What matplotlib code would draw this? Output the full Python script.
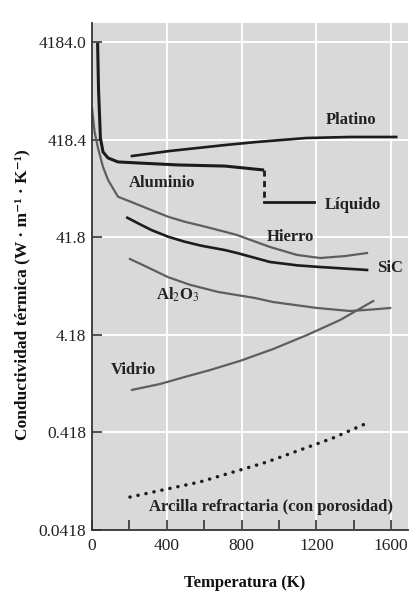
"""
Conductividad térmica de varios materiales frente a la temperatura.
Escala logarítmica en el eje vertical.
"""

import matplotlib
matplotlib.use("Agg")
import matplotlib.pyplot as plt
from matplotlib.ticker import FixedLocator, NullLocator

# --- valores (T en K, k en W/m/K) ---
al_T = [30, 35, 45, 59, 86, 139, 246, 460, 712, 920]
al_k = [4100, 1346, 434, 312, 271, 247, 241, 230, 224, 204]

liq_T = [920, 1188]
liq_k = [96, 96]

pt_T = [214, 417, 712, 878, 1145, 1381, 1627]
pt_k = [284, 320, 368, 395, 434, 445, 445]

fe_T = [0, 14, 32, 59, 86, 139, 228, 317, 407, 496, 585, 710, 776, 952,
        1097, 1220, 1354, 1471]
fe_k = [881, 500, 343, 219, 161, 108.7, 93.0, 79.4, 67.8, 60.2, 54.8, 47.6,
        44.0, 33.2, 27.5, 25.6, 26.8, 28.8]

sic_T = [189, 246, 317, 407, 496, 585, 710, 776, 952, 1100, 1220, 1471]
sic_k = [66.2, 58.1, 49.6, 42.3, 37.6, 34.2, 30.9, 28.8, 23.3, 21.5, 20.7,
         19.3]

alu_T = [203, 283, 407, 524, 674, 872, 969, 1204, 1381, 1500, 1595]
alu_k = [25.0, 21.2, 16.3, 13.6, 11.5, 9.96, 9.06, 7.87, 7.33, 7.6, 7.87]

vid_T = [214, 364, 498, 631, 792, 969, 1150, 1327, 1504]
vid_k = [1.14, 1.31, 1.55, 1.82, 2.26, 2.99, 4.16, 5.93, 9.28]

arc_T = [203, 578, 936, 1290, 1471]
arc_k = [0.091, 0.130, 0.208, 0.367, 0.521]

ytick_vals = [0.0418, 0.418, 4.18, 41.8, 418.4, 4184.0]
ytick_labels = ["0.0418", "0.418", "4.18", "41.8", "418.4", "4184.0"]
xtick_major = [0, 400, 800, 1200, 1600]
xtick_minor = [200, 600, 1000, 1400]

# etiquetas de curvas: (texto, T, k)
curve_labels = [
    ("Platino", 1386, 664),
    ("Aluminio", 375, 150),
    ("Líquido", 1397, 89),
    ("Hierro", 1060, 42),
    ("SiC", 1595, 20.2),
    ("Al$_2$O$_3$", 460, 10.7),
    ("Vidrio", 220, 1.82),
    ("Arcilla refractaria (con porosidad)", 958, 0.072),
]

SERIF = ["Liberation Serif", "DejaVu Serif"]
BLACK = "#1c1c1c"
GRAY = "#5e5e5e"


def set_style():
    plt.rcParams.update({
        "font.family": SERIF,
        "mathtext.fontset": "stix",
        "font.size": 12,
        "axes.facecolor": "#d9d9d9",
        "figure.facecolor": "white",
    })


def plot_conductivity(save_path="out.png"):
    set_style()
    fig = plt.figure(figsize=(4.12, 6.08), dpi=100)
    ax = fig.add_axes([92 / 412, 1 - 530 / 608, 316 / 412, 507 / 608])

    ax.set_yscale("log")
    ax.set_xlim(0, 1690)
    ax.set_ylim(0.0418, 6550)

    ax.plot(al_T, al_k, color=BLACK, lw=2.2, solid_capstyle="butt")
    # salto de fusión del aluminio (discontinuo)
    ax.plot([al_T[-1], liq_T[0]], [al_k[-1], liq_k[0]], color=BLACK, lw=2.0,
            linestyle=(0, (2.2, 1.6)))
    ax.plot(liq_T, liq_k, color=BLACK, lw=2.0)
    ax.plot(pt_T, pt_k, color=BLACK, lw=1.9)
    ax.plot(fe_T, fe_k, color=GRAY, lw=1.6)
    ax.plot(sic_T, sic_k, color=BLACK, lw=1.9)
    ax.plot(alu_T, alu_k, color=GRAY, lw=1.6)
    ax.plot(vid_T, vid_k, color=GRAY, lw=1.6)
    ax.plot(arc_T, arc_k, color=BLACK, lw=2.5, linestyle=(0, (0.05, 2.3)),
            dash_capstyle="round")

    for text, t, k in curve_labels:
        ax.text(t, k, text, ha="center", va="center", fontsize=12,
                fontweight="bold", color="#222222")

    ax.yaxis.set_major_locator(FixedLocator(ytick_vals))
    ax.yaxis.set_minor_locator(NullLocator())
    ax.set_yticklabels(ytick_labels)
    ax.xaxis.set_major_locator(FixedLocator(xtick_major))
    ax.xaxis.set_minor_locator(FixedLocator(xtick_minor))

    ax.tick_params(axis="both", which="both", direction="in", length=7,
                   width=1.2, color="#333333", labelsize=12.5,
                   labelcolor="#222222")
    ax.tick_params(axis="y", pad=4)
    ax.tick_params(axis="x", pad=6)

    ax.grid(True, which="major", color="white", lw=1.4)
    ax.set_axisbelow(True)

    for side in ("top", "right"):
        ax.spines[side].set_visible(False)
    for side in ("left", "bottom"):
        ax.spines[side].set_color("#333333")
        ax.spines[side].set_linewidth(1.3)

    fig.text(22 / 412, 1 - 295 / 608,
             "Conductividad térmica (W · m⁻¹ · K⁻¹)",
             rotation=90, ha="center", va="center", fontsize=12.5,
             fontweight="bold", color="#111111")
    fig.text(245 / 412, 1 - 583 / 608, "Temperatura (K)", ha="center",
             va="center", fontsize=12, fontweight="bold", color="#111111")

    fig.savefig(save_path, dpi=100)
    plt.close(fig)


if __name__ == "__main__":
    plot_conductivity()
